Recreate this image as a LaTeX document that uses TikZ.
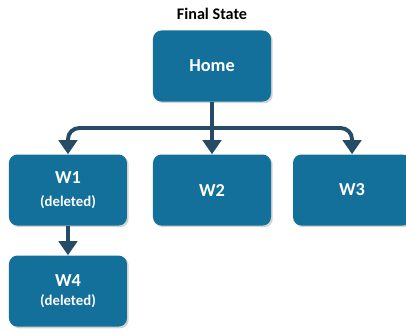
\documentclass[tikz,border=0pt]{standalone}
\usepackage{fontspec}
\setmainfont{Carlito}
\usetikzlibrary{positioning, arrows.meta, shadows, calc}

\definecolor{boxblue}{HTML}{13709B}
\definecolor{arrowblue}{HTML}{254B67}

\begin{document}
\begin{tikzpicture}[x=0.025cm, y=-0.025cm, node distance=3.1cm, on grid,
    page/.style={draw=none, fill=boxblue, rounded corners=6pt, minimum width=2.95cm,
        minimum height=1.775cm, text=white, font=\bfseries\fontsize{13}{15}\selectfont,
        align=center, drop shadow={shadow xshift=1.2pt, shadow yshift=-1.2pt, opacity=0.35}},
    link/.style={draw=arrowblue, line width=2.8pt, -{Triangle[width=13pt,length=10pt]}}]
        \useasboundingbox (0,0) rectangle (406,330);

        %% NODES
        \node[page] (home) at (212,66) {Home};
        \node[font=\bfseries\fontsize{11.5}{13}\selectfont] (title) [above=1.3cm of home] {Final State};
        \node[page] (w2) [below=of home] {W2};
        \node[page] (w1) [left=3.6cm of w2] {W1\\[1pt]{\fontsize{10.5}{12}\selectfont (deleted)}};
        \node[page] (w3) [right=3.5cm of w2] {W3};
        \node[page] (w4) [below=2.525cm of w1] {W4\\[-2pt]{\fontsize{10.5}{12}\selectfont (deleted)}};

        %% LINKS
        \coordinate (split) at ($(home.south)!0.5!(w2.north)$);
        \draw[draw=arrowblue, line width=2.8pt] (home.south) -- (split);
        \draw[link, rounded corners=8pt] (split) -| (w1.north);
        \draw[link, rounded corners=8pt] (split) -| (w3.north);
        \draw[link] (split) -- (w2.north);
        \draw[link] (w1) -- (w4);

    \end{tikzpicture}
\end{document}
